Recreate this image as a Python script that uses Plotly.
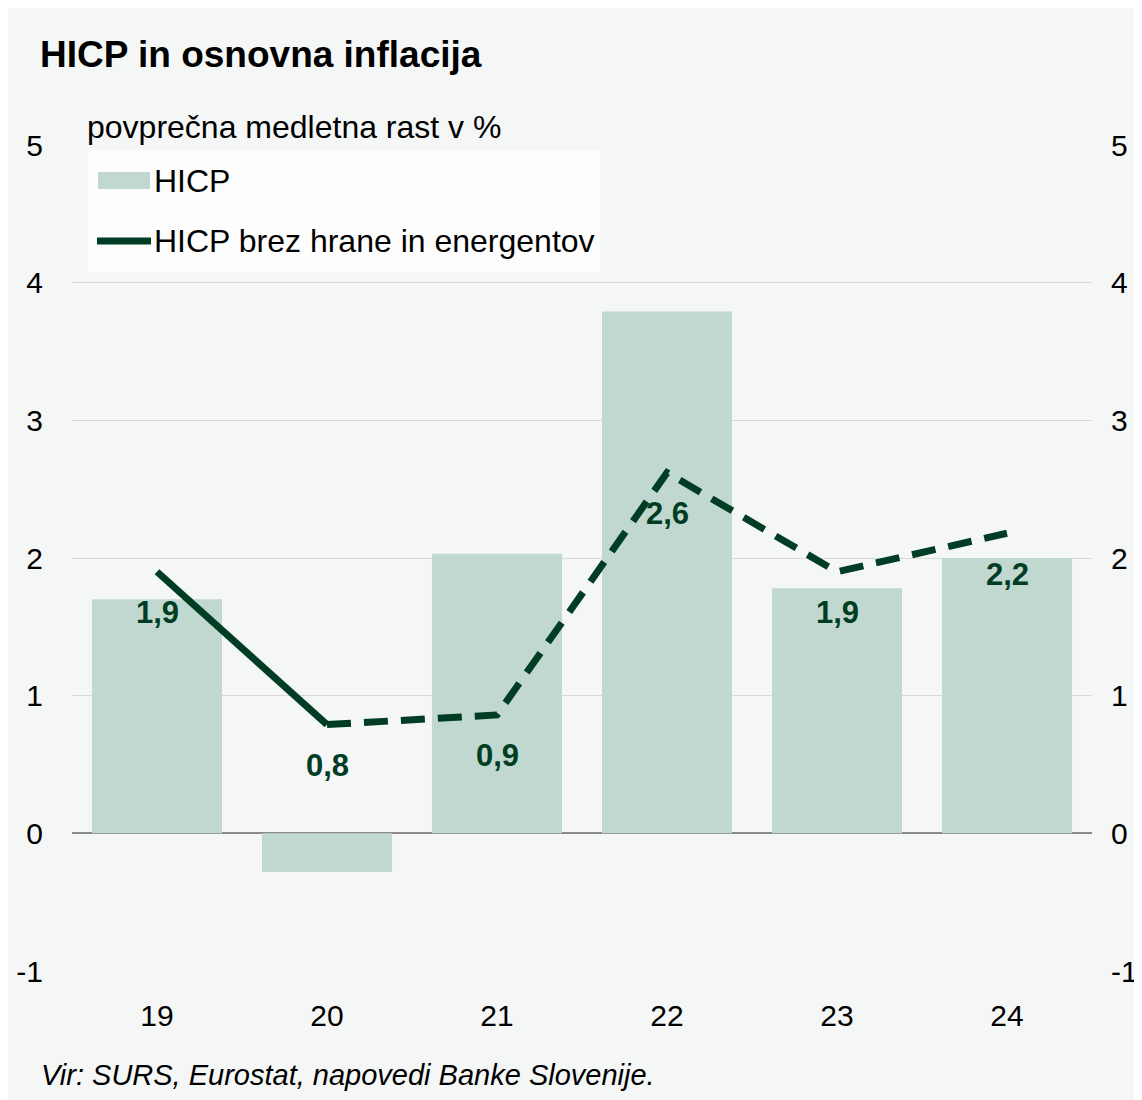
import plotly.graph_objects as go

categories = ["19", "20", "21", "22", "23", "24"]
hicp = [1.7, -0.28, 2.03, 3.79, 1.78, 2.0]
core = [1.9, 0.79, 0.86, 2.62, 1.9, 2.18]
y_ticks = [-1, 0, 1, 2, 3, 4, 5]

title = "HICP in osnovna inflacija"
subtitle = "povprečna medletna rast v %"
legend_bar = "HICP"
legend_line = "HICP brez hrane in energentov"
source = "Vir: SURS, Eurostat, napovedi Banke Slovenije."

BAR = "#c0d8cf"
LINE = "#003d24"
BG = "#f5f6f6"
FONT = "Liberation Sans, Arial, sans-serif"

OFF = 8  # page body margin
W, H = 1134, 1092
# plot area in page pixels: x 72..1092, y 145..971
ML = 72 - OFF
MT = 145 - OFF
MR = W - (1092 - OFF)
MB = H - (971 - OFF)
PW = W - ML - MR
PH = H - MT - MB


def px(x):
    return (x - OFF - ML) / PW


def py(y):
    return (H - MB - (y - OFF)) / PH


fig = go.Figure()
fig.add_trace(go.Bar(x=categories, y=hicp, marker=dict(color=BAR, line=dict(width=0)),
                     showlegend=False, hoverinfo="skip"))
# solid segment (actual) and dashed segment (forecast)
fig.add_trace(go.Scatter(x=categories[:2], y=core[:2], mode="lines",
                         line=dict(color=LINE, width=7), showlegend=False))
fig.add_trace(go.Scatter(x=categories[1:], y=core[1:], mode="lines",
                         line=dict(color=LINE, width=7, dash="24px,13px"), showlegend=False))
# invisible trace for right axis
fig.add_trace(go.Scatter(x=categories, y=core, yaxis="y2", mode="lines",
                         line=dict(width=0), opacity=0, showlegend=False, hoverinfo="skip"))

annotations = []
for i, v in enumerate(core):
    annotations.append(dict(x=i, y=v, xref="x", yref="y", text=f"{v:.1f}".replace(".", ","),
                            showarrow=False, yshift=-41,
                            font=dict(family=FONT, size=31, color=LINE, weight="bold")))

annotations += [
    dict(x=px(38), y=py(55), xref="paper", yref="paper", yanchor="middle",
         xanchor="left", text=f"<b>{title}</b>", showarrow=False,
         font=dict(family=FONT, size=37, color="#000000")),
    dict(x=px(85), y=py(127), xref="paper", yref="paper", xanchor="left", yanchor="middle",
         text=subtitle, showarrow=False, font=dict(family=FONT, size=32, color="#000000")),
    dict(x=px(152), y=py(181), xref="paper", yref="paper", xanchor="left", yanchor="middle",
         text=legend_bar, showarrow=False, font=dict(family=FONT, size=32, color="#000000")),
    dict(x=px(152), y=py(241), xref="paper", yref="paper", xanchor="left", yanchor="middle",
         text=legend_line, showarrow=False, font=dict(family=FONT, size=32, color="#000000")),
    dict(x=px(39), y=py(1075), xref="paper", yref="paper", xanchor="left", yanchor="middle",
         text=f"<i>{source}</i>", showarrow=False, font=dict(family=FONT, size=29, color="#000000")),
]

shapes = [
    dict(type="rect", xref="paper", yref="paper", x0=px(88), x1=px(600), y0=py(272), y1=py(150),
         fillcolor="rgba(255,255,255,0.8)", line=dict(width=0), layer="above"),
    dict(type="rect", xref="paper", yref="paper", x0=px(98), x1=px(150), y0=py(189), y1=py(172),
         fillcolor=BAR, line=dict(width=0), layer="above"),
    dict(type="line", xref="paper", yref="paper", x0=px(97), x1=px(151), y0=py(241), y1=py(241),
         line=dict(color=LINE, width=7), layer="above"),
]

axis_font = dict(family=FONT, size=30, color="#000000")
fig.update_layout(
    width=W, height=H,
    margin=dict(l=ML, r=MR, t=MT, b=MB, autoexpand=False),
    paper_bgcolor=BG, plot_bgcolor=BG,
    bargap=0.235,
    showlegend=False,
    annotations=annotations,
    shapes=shapes,
    xaxis=dict(type="category", range=[-0.5, 5.5], showgrid=False, showline=False,
               automargin=False, ticks="", tickfont=axis_font, ticklabelstandoff=24),
    yaxis=dict(range=[-1, 5], tickvals=y_ticks, ticktext=[str(t) for t in y_ticks],
               showgrid=True, gridcolor="#d9d9d9", gridwidth=1, automargin=False,
               zeroline=True, zerolinecolor="#8a8a8a", zerolinewidth=2,
               tickfont=axis_font, ticklabelstandoff=28, showline=False),
    yaxis2=dict(range=[-1, 5], tickvals=y_ticks, ticktext=[str(t) for t in y_ticks],
                overlaying="y", side="right", showgrid=False, automargin=False,
                zeroline=False, tickfont=axis_font, ticklabelstandoff=18, showline=False),
)

fig.write_html("out.html")
